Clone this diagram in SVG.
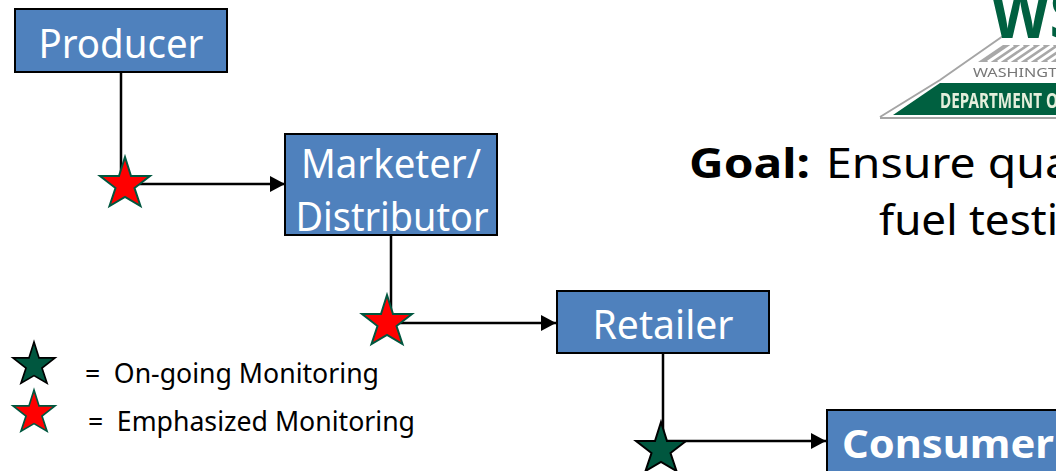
<svg xmlns="http://www.w3.org/2000/svg" width="1056" height="471" viewBox="0 0 1056 471">
<style>
text{font-family:"Noto Sans","Liberation Sans",sans-serif}
.box{fill:#4f81bd;stroke:#000;stroke-width:2}
.lab{fill:#fff;font-size:40px;text-anchor:middle}
.ln{fill:none;stroke:#000;stroke-width:2.5}
.leg{fill:#000;font-size:28px}
.goal{fill:#000;font-size:41px}
.red{fill:#f00;stroke:#00573f;stroke-width:2}
.grn{fill:#00573f;stroke:#000;stroke-width:2}
</style>
<defs>
<marker id="arr" markerUnits="userSpaceOnUse" markerWidth="16" markerHeight="16" refX="15" refY="8" orient="auto"><path d="M0 0L15 8L0 16Z" fill="#000"/></marker>
<polygon id="star" points="0,-25 6,-6 25,-6 9.5,6 15.5,24 0,15 -15.5,24 -9.5,6 -25,-6 -6,-6"/>
<filter id="soft" x="-5%" y="-5%" width="110%" height="110%"><feGaussianBlur stdDeviation="0.6"/></filter>
</defs>
<rect width="1056" height="471" fill="#fff"/>
<g id="connectors">
<path class="ln" d="M121 72V184H285" marker-end="url(#arr)"/>
<path class="ln" d="M391 235V323H556" marker-end="url(#arr)"/>
<path class="ln" d="M663 353V441H826" marker-end="url(#arr)"/>
</g>
<g id="producer"><rect class="box" x="15" y="9" width="212" height="63"/><text class="lab" x="121" y="58" textLength="165" lengthAdjust="spacingAndGlyphs">Producer</text></g>
<g id="marketer"><rect class="box" x="285" y="134" width="212" height="101"/><text class="lab" x="391" y="178" textLength="180" lengthAdjust="spacingAndGlyphs">Marketer/</text><text class="lab" x="392" y="231" textLength="193" lengthAdjust="spacingAndGlyphs">Distributor</text></g>
<g id="retailer"><rect class="box" x="557" y="291" width="212" height="62"/><text class="lab" x="663" y="339" textLength="141" lengthAdjust="spacingAndGlyphs">Retailer</text></g>
<g id="consumer"><rect class="box" x="827" y="410" width="240" height="70"/><text x="842" y="458" fill="#fff" font-size="40" font-weight="700" textLength="212" lengthAdjust="spacingAndGlyphs">Consumer</text></g>
<g id="star1"><use href="#star" class="red" x="125" y="182"/></g>
<g id="star2"><use href="#star" class="red" x="387" y="320"/></g>
<g id="star3"><use href="#star" class="grn" x="661" y="447"/></g>
<g id="legend">
<use href="#star" class="grn" transform="translate(34 363) scale(.84)"/>
<use href="#star" class="red" transform="translate(34 411) scale(.84)"/>
<text class="leg" x="85" y="383" textLength="294" lengthAdjust="spacingAndGlyphs">= <tspan dx="7">On-going Monitoring</tspan></text>
<text class="leg" x="88" y="431" textLength="327" lengthAdjust="spacingAndGlyphs">= <tspan dx="7">Emphasized Monitoring</tspan></text>
</g>
<g id="goal">
<text class="goal" x="689" y="178" font-weight="700" textLength="121" lengthAdjust="spacingAndGlyphs">Goal:</text>
<text class="goal" x="826" y="178" textLength="245" lengthAdjust="spacingAndGlyphs">Ensure qua</text>
<text class="goal" x="879" y="235" textLength="179" lengthAdjust="spacingAndGlyphs">fuel testi</text>
</g>
<g id="logo" filter="url(#soft)">
<path d="M880 117L940 80L1003 36" fill="none" stroke="#a5a5a5" stroke-width="2"/>
<path d="M880 118H1060" stroke="#a5a5a5" stroke-width="2" fill="none"/>
<path d="M893 115L940 83H1060V115Z" fill="#00603f"/>
<path d="M978 62L1003 45H1060V62Z" fill="#a8a8a8"/>
<path d="M988 62L1013 45M998 62L1023 45M1008 62L1033 45M1018 62L1043 45M1028 62L1053 45M1038 62L1063 45M1048 62L1073 45" stroke="#fff" stroke-width="3"/>
<text x="973" y="77" fill="#777" font-size="12" textLength="84" lengthAdjust="spacingAndGlyphs">WASHINGT</text>
<text x="940" y="108" fill="#e4efdc" font-size="21" font-weight="700" textLength="118" lengthAdjust="spacingAndGlyphs">DEPARTMENT O</text>
<text x="991" y="38" fill="#00603f" font-size="66" font-weight="700" textLength="92" lengthAdjust="spacingAndGlyphs">WS</text>
</g>
</svg>
